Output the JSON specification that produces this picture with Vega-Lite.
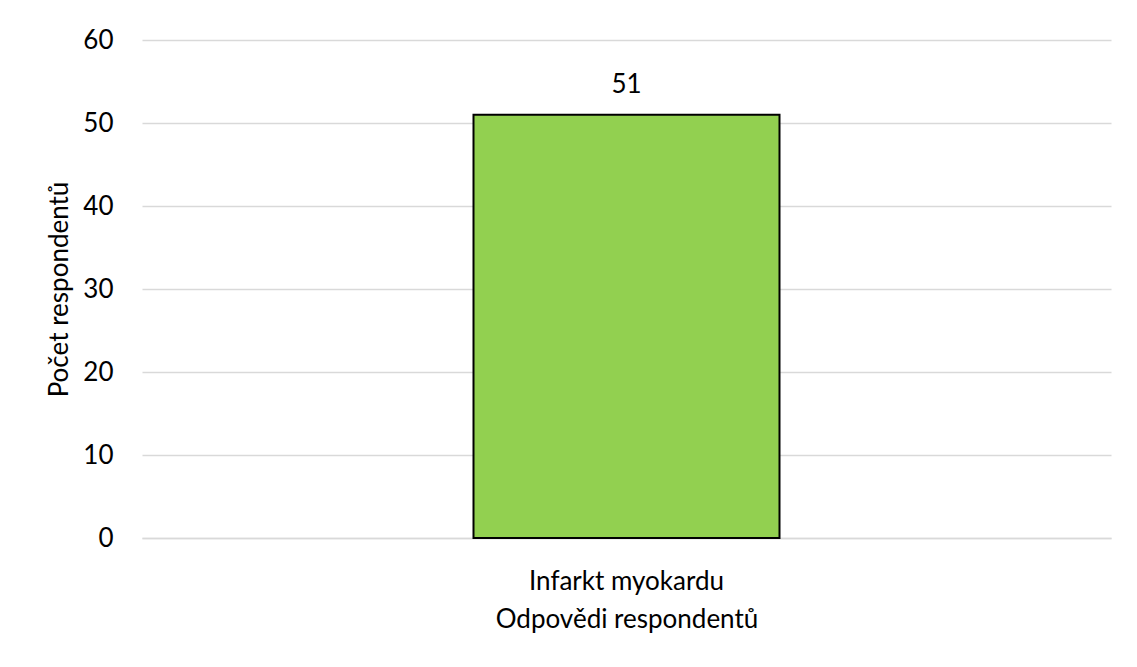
{
  "$schema": "https://vega.github.io/schema/vega-lite/v6.json",
  "autosize": "none",
  "width": 969,
  "height": 498,
  "padding": {"left": 142, "top": 40, "right": 26, "bottom": 129},
  "background": "white",
  "config": {
    "font": "Lato",
    "view": {"stroke": null},
    "axis": {"labelFont": "Lato", "titleFont": "Lato", "labelColor": "#000000", "titleColor": "#000000", "titleFontWeight": "normal"}
  },
  "data": {"values": [{"odpoved": "Infarkt myokardu", "pocet": 51}]},
  "encoding": {
    "x": {
      "field": "odpoved", "type": "nominal",
      "scale": {"paddingInner": 0.52, "paddingOuter": 0.52},
      "title": "Odpovědi respondentů",
      "axis": {"labelAngle": 0, "labelFontSize": 26, "labelLimit": 500, "titleFontSize": 26, "ticks": false, "domain": true, "domainColor": "#d9d9d9", "domainWidth": 1.5, "labelPadding": 30, "titlePadding": 12}
    },
    "y": {
      "field": "pocet", "type": "quantitative",
      "scale": {"domain": [0, 60]},
      "title": "Počet respondentů",
      "axis": {"values": [0, 10, 20, 30, 40, 50, 60], "labelFontSize": 26, "titleFontSize": 26, "ticks": false, "domain": false, "gridColor": "#d9d9d9", "gridWidth": 1.5, "labelPadding": 29, "titlePadding": 10}
    }
  },
  "layer": [
    {"mark": {"type": "bar", "color": "#92d050", "stroke": "#000000", "strokeWidth": 2}},
    {"mark": {"type": "text", "fontSize": 26, "dy": -22, "baseline": "alphabetic", "color": "#000000", "font": "Lato"},
     "encoding": {"text": {"field": "pocet", "type": "quantitative"}}}
  ]
}
